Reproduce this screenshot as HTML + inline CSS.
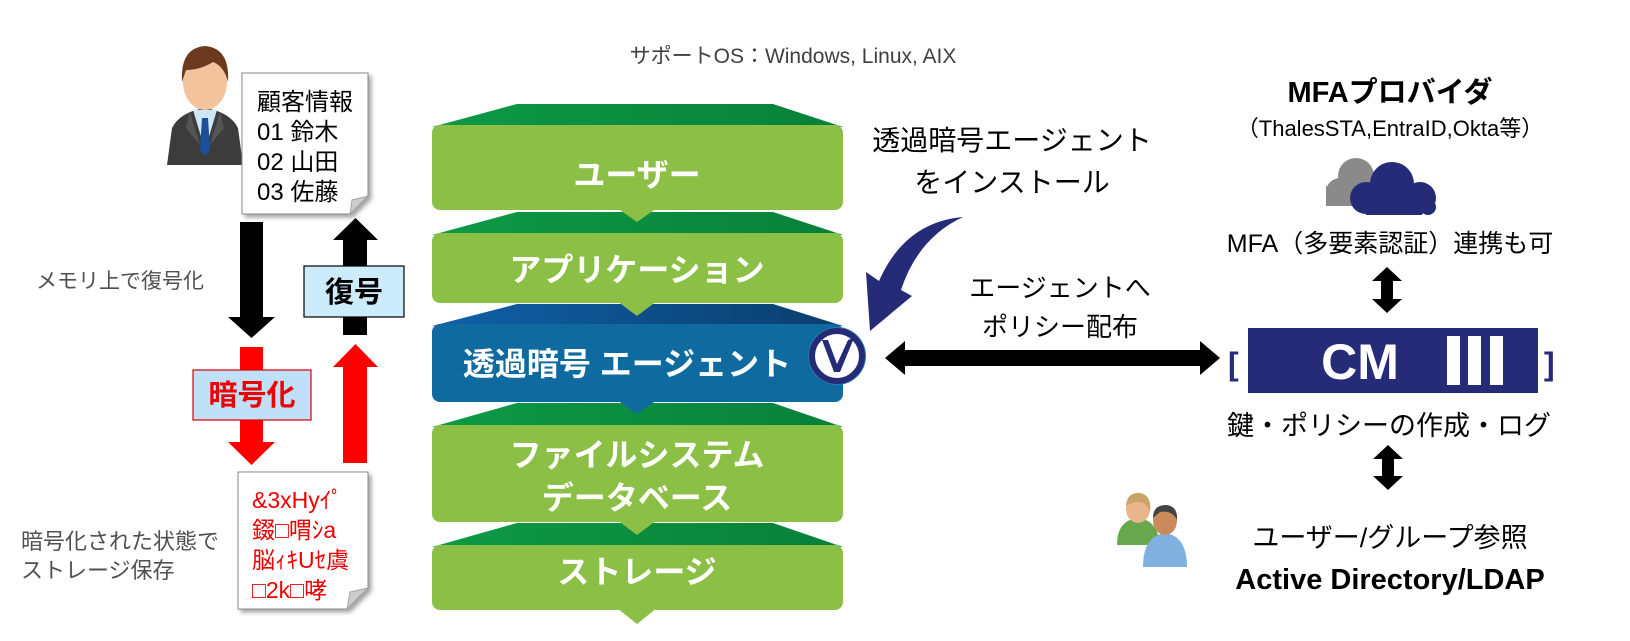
<!DOCTYPE html>
<html><head><meta charset="utf-8"><style>
html,body{margin:0;padding:0;background:#fff;}
svg{display:block;}
text{font-family:"Liberation Sans","Noto Sans CJK JP",sans-serif;}
</style></head><body>
<svg width="1630" height="641" viewBox="0 0 1630 641" xmlns="http://www.w3.org/2000/svg">
<defs>
<linearGradient id="bev" x1="0" y1="0" x2="1" y2="0"><stop offset="0" stop-color="#0e9a45"/><stop offset="1" stop-color="#08803a"/></linearGradient>
<linearGradient id="bevb" x1="0" y1="0" x2="1" y2="0"><stop offset="0" stop-color="#1060a8"/><stop offset="1" stop-color="#0a3e6c"/></linearGradient>
<filter id="sh" x="-10%" y="-10%" width="130%" height="130%"><feDropShadow dx="3" dy="3" stdDeviation="2" flood-color="#000" flood-opacity="0.35"/></filter>
</defs>

<text x="793" y="63" font-size="21" fill="#404040" text-anchor="middle">サポートOS：Windows, Linux, AIX</text>

<g>
<path d="M167,165 L172,128 Q180,112 205,108 Q230,112 238,128 L243,165 Z" fill="#3c3c3c"/>
<path d="M193,110 L205,150 L217,110 Z" fill="#cfe6f7"/>
<path d="M202,118 L208,118 L210,150 L205,156 L200,150 Z" fill="#1d4f9a"/>
<path d="M190,112 L200,145 L186,128 Z M220,112 L210,145 L224,128 Z" fill="#555"/>
<ellipse cx="205" cy="82" rx="22" ry="28" fill="#f2c39c"/>
<path d="M182,82 Q180,48 205,46 Q230,48 228,82 Q224,66 213,62 Q200,70 186,70 Z" fill="#6b3a1e"/>
</g>

<g filter="url(#sh)">
<path d="M242,73 L368,73 L368,196 L350,214 L242,214 Z" fill="#fff" stroke="#888" stroke-width="1"/>
<path d="M350,214 L352,200 L368,196 Z" fill="#ccc" stroke="#999" stroke-width="0.8"/>
</g>
<g font-size="24" fill="#000">
<text x="257" y="110">顧客情報</text>
<text x="257" y="140">01 鈴木</text>
<text x="257" y="170">02 山田</text>
<text x="257" y="200">03 佐藤</text>
</g>

<text x="36" y="288" font-size="21" fill="#505050">メモリ上で復号化</text>
<text x="21" y="549" font-size="22" fill="#505050">暗号化された状態で</text>
<text x="21" y="578" font-size="22" fill="#505050">ストレージ保存</text>

<path d="M240,222 L263,222 L263,317 L275,317 L251.5,338 L228,317 L240,317 Z" fill="#000"/>
<path d="M355.5,218 L378,240 L367,240 L367,335 L343,335 L343,240 L333,240 Z" fill="#000"/>
<rect x="304" y="266" width="100" height="51" fill="#ccebfb" stroke="#000" stroke-width="1.2"/>
<text x="354" y="302" font-size="29" font-weight="bold" fill="#000" text-anchor="middle">復号</text>

<path d="M240,347 L263,347 L263,442 L275,442 L251.5,465 L228,442 L240,442 Z" fill="#f00"/>
<rect x="193" y="370" width="118" height="50" fill="#bfe0f8" stroke="#d00" stroke-width="1.2"/>
<text x="252" y="405" font-size="29" font-weight="bold" fill="#e00" text-anchor="middle">暗号化</text>
<path d="M355.5,344 L378,367 L367,367 L367,463 L343,463 L343,367 L333,367 Z" fill="#f00"/>

<g filter="url(#sh)">
<path d="M238,472 L368,472 L368,588 L347,609 L238,609 Z" fill="#fff" stroke="#888" stroke-width="1"/>
<path d="M347,609 L350,592 L368,588 Z" fill="#ccc" stroke="#999" stroke-width="0.8"/>
</g>
<g font-size="23" fill="#e00">
<text x="252" y="508">&amp;3xHyｲﾟ</text>
<text x="252" y="538">錣□喟ｼa</text>
<text x="252" y="568">脳ｨｷUｾ虞</text>
<text x="252" y="598">□2k□哮</text>
</g>

<path d="M517,523 L773,523 L843,547 L432,547 Z" fill="url(#bev)"/>
<rect x="432" y="545" width="411" height="65" rx="8" fill="#8cbf45"/>
<path d="M617,608 L657,608 L637,624 Z" fill="#8cbf45"/>
<text x="637" y="583" font-size="32" font-weight="bold" fill="#fff" text-anchor="middle">ストレージ</text>
<path d="M517,403 L773,403 L843,427 L432,427 Z" fill="url(#bev)"/>
<rect x="432" y="425" width="411" height="97" rx="8" fill="#8cbf45"/>
<path d="M617,520 L657,520 L637,535 Z" fill="#8cbf45"/>
<text x="637" y="466" font-size="32" font-weight="bold" fill="#fff" text-anchor="middle">ファイルシステム</text>
<text x="637" y="509" font-size="32" font-weight="bold" fill="#fff" text-anchor="middle">データベース</text>
<path d="M517,304 L773,304 L843,326 L432,326 Z" fill="url(#bevb)"/>
<rect x="432" y="324" width="411" height="78" rx="8" fill="#0f6aa0"/>
<path d="M617,400 L657,400 L637,414 Z" fill="#0f6aa0"/>
<text x="627" y="375" font-size="32" font-weight="bold" fill="#fff" text-anchor="middle">透過暗号 エージェント</text>
<path d="M517,212 L773,212 L843,235 L432,235 Z" fill="url(#bev)"/>
<rect x="432" y="233" width="411" height="70" rx="8" fill="#8cbf45"/>
<path d="M617,301 L657,301 L637,316 Z" fill="#8cbf45"/>
<text x="637" y="281" font-size="32" font-weight="bold" fill="#fff" text-anchor="middle">アプリケーション</text>
<path d="M517,104 L773,104 L843,127 L432,127 Z" fill="url(#bev)"/>
<rect x="432" y="125" width="411" height="85" rx="8" fill="#8cbf45"/>
<path d="M617,208 L657,208 L637,222 Z" fill="#8cbf45"/>
<text x="637" y="186" font-size="32" font-weight="bold" fill="#fff" text-anchor="middle">ユーザー</text>

<circle cx="837" cy="356" r="29" fill="#2a7aa8"/>
<circle cx="837" cy="356" r="25" fill="#fff" stroke="#262b78" stroke-width="6"/>
<path d="M822,340 L834,372 L840,372 L854,338 L848,340 L837,364 L828,340 Z" fill="#262b78"/>

<path d="M963,217 Q905,222 879,281 L866,272 L870,331 L912,296 L901,290 Q918,238 963,217 Z" fill="#262b78"/>

<text x="1012" y="150" font-size="28" fill="#000" text-anchor="middle">透過暗号エージェント</text>
<text x="1012" y="192" font-size="28" fill="#000" text-anchor="middle">をインストール</text>
<text x="1060" y="297" font-size="26" fill="#000" text-anchor="middle">エージェントへ</text>
<text x="1060" y="336" font-size="26" fill="#000" text-anchor="middle">ポリシー配布</text>

<path d="M885,358 L905,341 L905,350 L1200,350 L1200,341 L1220,358 L1200,375 L1200,366 L905,366 L905,375 Z" fill="#000"/>

<text x="1390" y="102" font-size="29" font-weight="bold" fill="#000" text-anchor="middle">MFAプロバイダ</text>
<text x="1390" y="136" font-size="22" fill="#000" text-anchor="middle">（ThalesSTA,EntraID,Okta等）</text>
<g fill="#8a8a8a">
<circle cx="1340" cy="192" r="14"/><circle cx="1356" cy="176" r="18"/><rect x="1326" y="186" width="40" height="20"/>
</g>
<g fill="#262b78">
<circle cx="1366" cy="198" r="16"/><circle cx="1392" cy="184" r="22"/><circle cx="1420" cy="198" r="16"/><rect x="1366" y="195" width="56" height="20"/><circle cx="1428" cy="207" r="8"/>
</g>
<text x="1390" y="252" font-size="25" fill="#000" text-anchor="middle">MFA（多要素認証）連携も可</text>

<path d="M1387,267 L1402,281 L1393,281 L1393,299 L1402,299 L1387,313 L1372,299 L1381,299 L1381,281 L1372,281 Z" fill="#000"/>

<text x="1228" y="375" font-size="32" font-weight="bold" fill="#262b78">[</text>
<text x="1544" y="375" font-size="32" font-weight="bold" fill="#262b78">]</text>
<rect x="1248" y="328" width="290" height="65" fill="#262b78"/>
<text x="1360" y="379" font-size="50" font-weight="bold" fill="#fff" text-anchor="middle">CM</text>
<rect x="1447" y="336" width="13" height="49" fill="#fff"/>
<rect x="1468" y="336" width="13" height="49" fill="#fff"/>
<rect x="1490" y="336" width="13" height="49" fill="#fff"/>

<text x="1389" y="435" font-size="27" fill="#000" text-anchor="middle">鍵・ポリシーの作成・ログ</text>
<path d="M1388,445 L1403,459 L1394,459 L1394,476 L1403,476 L1388,490 L1373,476 L1382,476 L1382,459 L1373,459 Z" fill="#000"/>

<g>
<path d="M1117,545 Q1117,520 1138,518 Q1158,520 1160,545 Z" fill="#6aa84f"/>
<ellipse cx="1138" cy="509" rx="12" ry="14" fill="#e8b48a"/>
<path d="M1126,506 Q1127,492 1140,493 Q1152,495 1150,512 Q1146,500 1134,502 Z" fill="#c9a468"/>
<path d="M1143,567 Q1143,536 1165,533 Q1187,536 1187,567 Z" fill="#7fb0de"/>
<ellipse cx="1165" cy="521" rx="12" ry="14" fill="#c98a5c"/>
<path d="M1153,518 Q1153,505 1166,505 Q1178,506 1177,520 Q1172,510 1160,512 Z" fill="#444"/>
</g>

<text x="1390" y="547" font-size="27" fill="#000" text-anchor="middle">ユーザー/グループ参照</text>
<text x="1390" y="589" font-size="29" font-weight="bold" fill="#000" text-anchor="middle">Active Directory/LDAP</text>
</svg>
</body></html>
